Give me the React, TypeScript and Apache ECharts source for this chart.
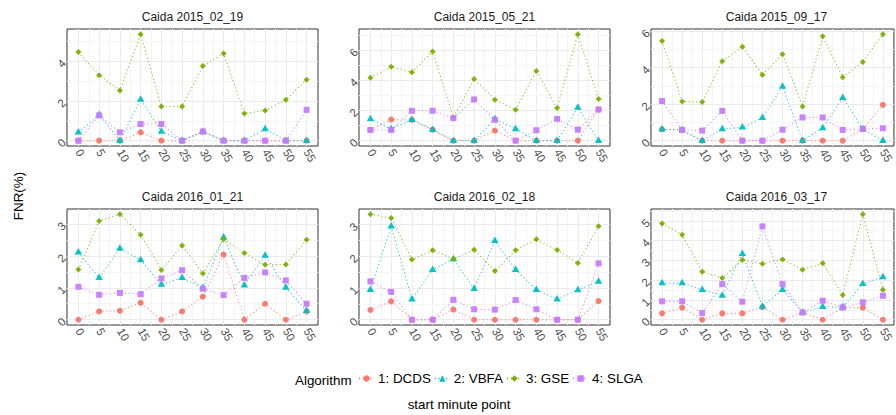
import React, { useEffect, useRef } from "react";
import * as echarts from "echarts";

// ---- data ----
const minutes = [0, 5, 10, 15, 20, 25, 30, 35, 40, 45, 50, 55];
const algorithms = ["1: DCDS", "2: VBFA", "3: GSE", "4: SLGA"];
const panelTitles = [
  "Caida 2015_02_19",
  "Caida 2015_05_21",
  "Caida 2015_09_17",
  "Caida 2016_01_21",
  "Caida 2016_02_18",
  "Caida 2016_03_17",
];

const dcds_20150219 = [0, 0, 0, 0.42, 0, 0, 0.45, 0, 0, 0, 0, 0];
const vbfa_20150219 = [0.42, 1.3, 0, 2.07, 0.46, 0, 0.46, 0, 0, 0.59, 0, 0];
const gse_20150219 = [4.46, 3.29, 2.53, 5.35, 1.72, 1.72, 3.76, 4.39, 1.37, 1.52, 2.06, 3.07];
const slga_20150219 = [0, 1.27, 0.42, 0.84, 0.84, 0, 0.46, 0, 0, 0, 0, 1.55];

const dcds_20150521 = [0.71, 1.4, 1.38, 0.73, 0, 0, 0.67, 0, 0, 0, 0, 2.05];
const vbfa_20150521 = [1.44, 0.78, 1.38, 0.73, 0, 0, 1.44, 0.78, 0, 0, 2.2, 0];
const gse_20150521 = [4.16, 4.89, 4.53, 5.91, 1.53, 4.09, 2.71, 2.04, 4.62, 2.16, 7.04, 2.76];
const slga_20150521 = [0.71, 0.71, 1.98, 1.98, 1.49, 2.73, 1.38, 0, 0.69, 1.44, 0.73, 2.07];

const dcds_20150917 = [0.62, 0.59, 0, 0, 0, 0, 0, 0, 0, 0, 0.64, 1.96];
const vbfa_20150917 = [0.62, 0.59, 0, 0.64, 0.73, 1.25, 2.97, 0, 0.7, 2.35, 0.64, 0];
const gse_20150917 = [5.45, 2.15, 2.11, 4.35, 5.14, 3.61, 4.73, 1.87, 5.72, 3.47, 4.31, 5.82];
const slga_20150917 = [2.17, 0.59, 0.55, 1.63, 0, 0, 0.6, 1.27, 1.27, 0.59, 0.64, 0.68];

const dcds_20160121 = [0, 0.26, 0.28, 0.53, 0, 0.26, 0.72, 2.04, 0, 0.5, 0, 0.26];
const vbfa_20160121 = [2.11, 1.31, 2.23, 1.87, 1.1, 1.31, 0.99, 2.58, 1.08, 2.01, 1.01, 0.28];
const gse_20160121 = [1.57, 3.09, 3.3, 2.66, 1.56, 2.32, 1.45, 2.52, 2.09, 1.72, 1.73, 2.5];
const slga_20160121 = [1.03, 0.78, 0.84, 0.8, 1.29, 1.55, 0.97, 0.77, 1.31, 1.48, 1.23, 0.5];

const dcds_20160218 = [0.31, 0.58, 0, 0, 0.32, 0, 0, 0, 0, 0, 0, 0.59];
const vbfa_20160218 = [0.95, 2.95, 0.65, 1.58, 1.92, 0.98, 2.49, 1.58, 0.95, 0.65, 0.94, 1.21];
const gse_20160218 = [3.33, 3.21, 1.9, 2.19, 1.92, 2.21, 1.54, 2.19, 2.54, 2.2, 1.79, 2.95];
const slga_20160218 = [1.21, 0.88, 0, 0, 0.63, 0.33, 0.32, 0.62, 0.33, 0, 0, 1.78];

const dcds_20160317 = [0.32, 0.61, 0, 0.32, 0.32, 0.64, 0, 0.37, 0, 0.62, 0.61, 0];
const vbfa_20160317 = [1.85, 1.85, 1.52, 1.23, 3.34, 0.67, 1.52, 0.37, 0.66, 0.64, 1.82, 2.16];
const gse_20160317 = [4.86, 4.3, 2.43, 2.11, 3.02, 2.83, 3.04, 2.53, 2.85, 1.25, 5.33, 1.52];
const slga_20160317 = [0.93, 0.93, 0.34, 1.8, 0.91, 4.72, 1.8, 0.37, 0.96, 0.62, 0.88, 1.21];

const panelValues = [
  [dcds_20150219, vbfa_20150219, gse_20150219, slga_20150219],
  [dcds_20150521, vbfa_20150521, gse_20150521, slga_20150521],
  [dcds_20150917, vbfa_20150917, gse_20150917, slga_20150917],
  [dcds_20160121, vbfa_20160121, gse_20160121, slga_20160121],
  [dcds_20160218, vbfa_20160218, gse_20160218, slga_20160218],
  [dcds_20160317, vbfa_20160317, gse_20160317, slga_20160317],
];

const yMajorTicks = [
  [0, 2, 4],
  [0, 2, 4, 6],
  [0, 2, 4, 6],
  [0, 1, 2, 3],
  [0, 1, 2, 3],
  [0, 1, 2, 3, 4, 5],
];
const yMinorTicks = [
  [1, 3, 5],
  [1, 3, 5, 7],
  [1, 3, 5],
  [0.5, 1.5, 2.5],
  [0.5, 1.5, 2.5],
  [0.5, 1.5, 2.5, 3.5, 4.5, 5.5],
];
const xMinorTicks = [2.5, 7.5, 12.5, 17.5, 22.5, 27.5, 32.5, 37.5, 42.5, 47.5, 52.5];

// ---- style ----
const colors = ["#F8766D", "#00BFC4", "#7CAE00", "#C77CFF"];
const symbols = ["circle", "triangle", "diamond", "rect"];
const symbolSizes: any[] = [6, [7.5, 6.5], 6, 6];
const symbolOffsets: any[] = [[0, 0], [0, -1], [0, 0], [0, 0]];
const FONT = "'Liberation Sans', Arial, Helvetica, sans-serif";

const colLefts = [67, 359, 651];
const rowTops = [29, 209];
const rowHeights = [117, 116];
const panelW = 251;

export default function App() {
  const ref = useRef<HTMLDivElement>(null);

  useEffect(() => {
    if (!ref.current) return;
    const chart = echarts.init(ref.current, undefined, { renderer: "svg" });

    const grids: any[] = [];
    const xAxes: any[] = [];
    const yAxes: any[] = [];
    const gridSeries: any[] = [];
    const lineSeries: any[] = [];
    const pointSeries: any[] = [];
    const graphics: any[] = [];

    panelValues.forEach((vals, p) => {
      const row = Math.floor(p / 3);
      const col = p % 3;
      const left = colLefts[col];
      const top = rowTops[row];
      const h = rowHeights[row];
      grids.push({
        left,
        top,
        width: panelW,
        height: h,
        show: true,
        backgroundColor: "#ffffff",
        borderColor: "#333333",
        borderWidth: 1,
        containLabel: false,
      });
      const maxV = Math.max(...vals.map((a) => Math.max(...a)));
      const xr = minutes[minutes.length - 1] - minutes[0];
      xAxes.push({
        type: "value",
        gridIndex: p,
        min: minutes[0] - 0.05 * xr,
        max: minutes[minutes.length - 1] + 0.05 * xr,
        axisLine: { show: false },
        splitLine: { show: false },
        axisTick: {
          show: true,
          customValues: minutes,
          length: 3.5,
          lineStyle: { color: "#333333", width: 1 },
        },
        axisLabel: {
          customValues: minutes,
          rotate: -60,
          margin: 4,
          color: "#4D4D4D",
          fontSize: 11.5,
          fontFamily: FONT,
        },
      });
      yAxes.push({
        type: "value",
        gridIndex: p,
        min: -0.05 * maxV,
        max: 1.05 * maxV,
        axisLine: { show: false },
        splitLine: { show: false },
        axisTick: {
          show: true,
          customValues: yMajorTicks[p],
          length: 3.5,
          lineStyle: { color: "#333333", width: 1 },
        },
        axisLabel: {
          customValues: yMajorTicks[p],
          rotate: 45,
          margin: 3,
          color: "#4D4D4D",
          fontSize: 11.5,
          fontFamily: FONT,
        },
      });

      const major = { color: "#EBEBEB", width: 1, type: "solid" };
      const minor = { color: "#F4F4F4", width: 1, type: "solid" };
      const mlData: any[] = [];
      minutes.forEach((v) => mlData.push({ xAxis: v, lineStyle: major }));
      xMinorTicks.forEach((v) => mlData.push({ xAxis: v, lineStyle: minor }));
      yMajorTicks[p].forEach((v) => mlData.push({ yAxis: v, lineStyle: major }));
      yMinorTicks[p].forEach((v) => mlData.push({ yAxis: v, lineStyle: minor }));
      gridSeries.push({
        type: "line",
        name: "grid" + p,
        xAxisIndex: p,
        yAxisIndex: p,
        data: [],
        z: 1,
        silent: true,
        markLine: {
          silent: true,
          z: 1,
          symbol: ["none", "none"],
          label: { show: false },
          emphasis: { disabled: true },
          animation: false,
          data: mlData,
        },
      });

      vals.forEach((arr, a) => {
        const data = minutes.map((m, i) => [m, arr[i]]);
        lineSeries.push({
          type: "line",
          name: algorithms[a],
          xAxisIndex: p,
          yAxisIndex: p,
          data,
          symbol: symbols[a],
          symbolSize: symbolSizes[a],
          showSymbol: false,
          z: 2,
          itemStyle: { color: colors[a] },
          lineStyle: { color: colors[a], width: 1.1, type: [1.1, 2.6], opacity: 0.85 },
          emphasis: { disabled: true },
        });
        pointSeries.push({
          type: "scatter",
          name: algorithms[a],
          xAxisIndex: p,
          yAxisIndex: p,
          data,
          symbol: symbols[a],
          symbolSize: symbolSizes[a],
          symbolOffset: symbolOffsets[a],
          z: 3,
          itemStyle: { color: colors[a], opacity: 0.95 },
          emphasis: { disabled: true },
        });
      });

      graphics.push({
        type: "text",
        x: left + panelW / 2,
        y: top - 12.5,
        style: {
          text: panelTitles[p],
          align: "center",
          verticalAlign: "middle",
          fill: "#1A1A1A",
          font: `12px ${FONT}`,
        },
      });
    });

    graphics.push({
      type: "text",
      x: 18,
      y: 196,
      rotation: Math.PI / 2,
      style: {
        text: "FNR(%)",
        align: "center",
        verticalAlign: "middle",
        fill: "#000000",
        font: `13.4px ${FONT}`,
      },
    });
    graphics.push({
      type: "text",
      x: 459,
      y: 404,
      style: {
        text: "start minute point",
        align: "center",
        verticalAlign: "middle",
        fill: "#000000",
        font: `13.4px ${FONT}`,
      },
    });
    graphics.push({
      type: "text",
      x: 295,
      y: 380,
      style: {
        text: "Algorithm",
        align: "left",
        verticalAlign: "middle",
        fill: "#000000",
        font: `13.4px ${FONT}`,
      },
    });

    chart.setOption({
      animation: false,
      backgroundColor: "#ffffff",
      grid: grids,
      xAxis: xAxes,
      yAxis: yAxes,
      legend: {
        data: algorithms,
        left: 358,
        top: 372,
        padding: 0,
        itemWidth: 15,
        itemHeight: 8,
        itemGap: 3,
        selectedMode: false,
        textStyle: { fontSize: 13.4, color: "#000000", fontFamily: FONT, padding: [0, 0, 0, -1] },
      },
      graphic: graphics,
      series: [...gridSeries, ...lineSeries, ...pointSeries],
    });

    return () => chart.dispose();
  }, []);

  return (
    <div
      ref={ref}
      style={{ position: "fixed", left: 0, top: 0, width: 896, height: 415, background: "#fff" }}
    />
  );
}
